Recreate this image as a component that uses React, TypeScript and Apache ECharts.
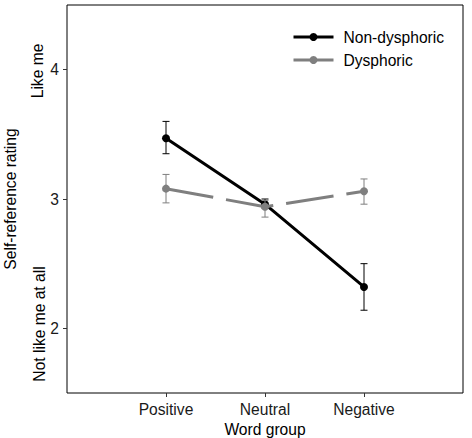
import React, { useEffect, useRef } from "react";
import * as echarts from "echarts";

const categories = ["Positive", "Neutral", "Negative"];
const nonDysMean = [3.47, 2.96, 2.32];
const nonDysLow = [3.35, 2.93, 2.14];
const nonDysHigh = [3.6, 3.0, 2.5];
const dysMean = [3.08, 2.94, 3.06];
const dysLow = [2.97, 2.86, 2.96];
const dysHigh = [3.19, 2.99, 3.155];
const yTicks = [2, 3, 4];
const seriesNames = ["Non-dysphoric", "Dysphoric"];

const FONT = "Liberation Sans, Arial, Helvetica, sans-serif";
const FS = 15.6;
const BLACK = "#000000";
const GREY = "#7f7f7f";

function errSeries(name: string, lo: number[], hi: number[], color: string) {
  return {
    type: "custom",
    name,
    z: 3,
    data: categories.map((_, i) => [i + 1, lo[i], hi[i]]),
    renderItem: (params: any, api: any) => {
      const x = api.value(0);
      const pLo = api.coord([x, api.value(1)]);
      const pHi = api.coord([x, api.value(2)]);
      const w = 3.5;
      const style = { stroke: color, lineWidth: 1 };
      return {
        type: "group",
        children: [
          { type: "line", shape: { x1: pHi[0], y1: pHi[1], x2: pLo[0], y2: pLo[1] }, style },
          { type: "line", shape: { x1: pHi[0] - w, y1: pHi[1], x2: pHi[0] + w, y2: pHi[1] }, style },
          { type: "line", shape: { x1: pLo[0] - w, y1: pLo[1], x2: pLo[0] + w, y2: pLo[1] }, style },
        ],
      };
    },
  };
}

function rotText(text: string, x: number, y: number) {
  return {
    type: "text",
    x,
    y,
    rotation: Math.PI / 2,
    style: {
      text,
      fontSize: FS,
      fontFamily: FONT,
      fill: BLACK,
      align: "center",
      verticalAlign: "middle",
    },
  };
}

export default function App() {
  const ref = useRef<HTMLDivElement>(null);
  useEffect(() => {
    const chart = echarts.init(ref.current!, null, { renderer: "svg" });
    chart.setOption({
      animation: false,
      backgroundColor: "#ffffff",
      textStyle: { fontFamily: FONT },
      grid: {
        left: 67,
        top: 5,
        right: 9,
        bottom: 45,
        containLabel: false,
        outerBoundsMode: "none",
        show: true,
        borderColor: BLACK,
        borderWidth: 1,
        backgroundColor: "transparent",
      },
      legend: {
        orient: "vertical",
        left: 287,
        top: 24,
        itemWidth: 40,
        itemHeight: 10,
        itemGap: 7,
        data: seriesNames,
        textStyle: { fontSize: FS, color: BLACK, fontFamily: FONT, padding: [0, 0, 0, 5] },
        lineStyle: { type: "solid", width: 3 },
      },
      xAxis: {
        type: "value",
        min: 0,
        max: 4,
        name: "Word group",
        nameLocation: "middle",
        nameGap: 28,
        nameTextStyle: { fontSize: FS, color: BLACK, fontFamily: FONT },
        axisLine: { show: false },
        splitLine: { show: false },
        axisTick: {
          show: true,
          length: 4,
          lineStyle: { color: "#333" },
          customValues: [1, 2, 3],
        },
        axisLabel: {
          fontSize: FS,
          color: "#1a1a1a",
          margin: 8,
          fontFamily: FONT,
          customValues: [1, 2, 3],
          formatter: (v: number) => categories[Math.round(v) - 1] ?? "",
        },
      },
      yAxis: {
        type: "value",
        min: 1.5,
        max: 4.5,
        axisLine: { show: false },
        splitLine: { show: false },
        axisTick: {
          show: true,
          length: 4,
          lineStyle: { color: "#333" },
          customValues: yTicks,
        },
        axisLabel: {
          fontSize: FS,
          color: "#1a1a1a",
          margin: 8,
          fontFamily: FONT,
          customValues: yTicks,
          formatter: (v: number) => String(v),
        },
      },
      graphic: [
        rotText("Self-reference rating", 10, 199),
        rotText("Like me", 37, 71),
        rotText("Not like me at all", 39, 324),
      ],
      series: [
        {
          type: "line",
          name: seriesNames[0],
          z: 2,
          data: categories.map((_, i) => [i + 1, nonDysMean[i]]),
          symbol: "circle",
          symbolSize: 8,
          itemStyle: { color: BLACK },
          lineStyle: { color: BLACK, width: 3 },
        },
        errSeries("errA", nonDysLow, nonDysHigh, BLACK),
        {
          type: "line",
          name: seriesNames[1],
          z: 4,
          data: categories.map((_, i) => [i + 1, dysMean[i]]),
          symbol: "circle",
          symbolSize: 8,
          itemStyle: { color: GREY },
          lineStyle: { color: GREY, width: 3, type: [48, 13] },
        },
        errSeries("errB", dysLow, dysHigh, GREY),
      ],
    });
    return () => chart.dispose();
  }, []);
  return (
    <div
      ref={ref}
      style={{ position: "fixed", left: 0, top: 0, width: 472, height: 438 }}
    />
  );
}
